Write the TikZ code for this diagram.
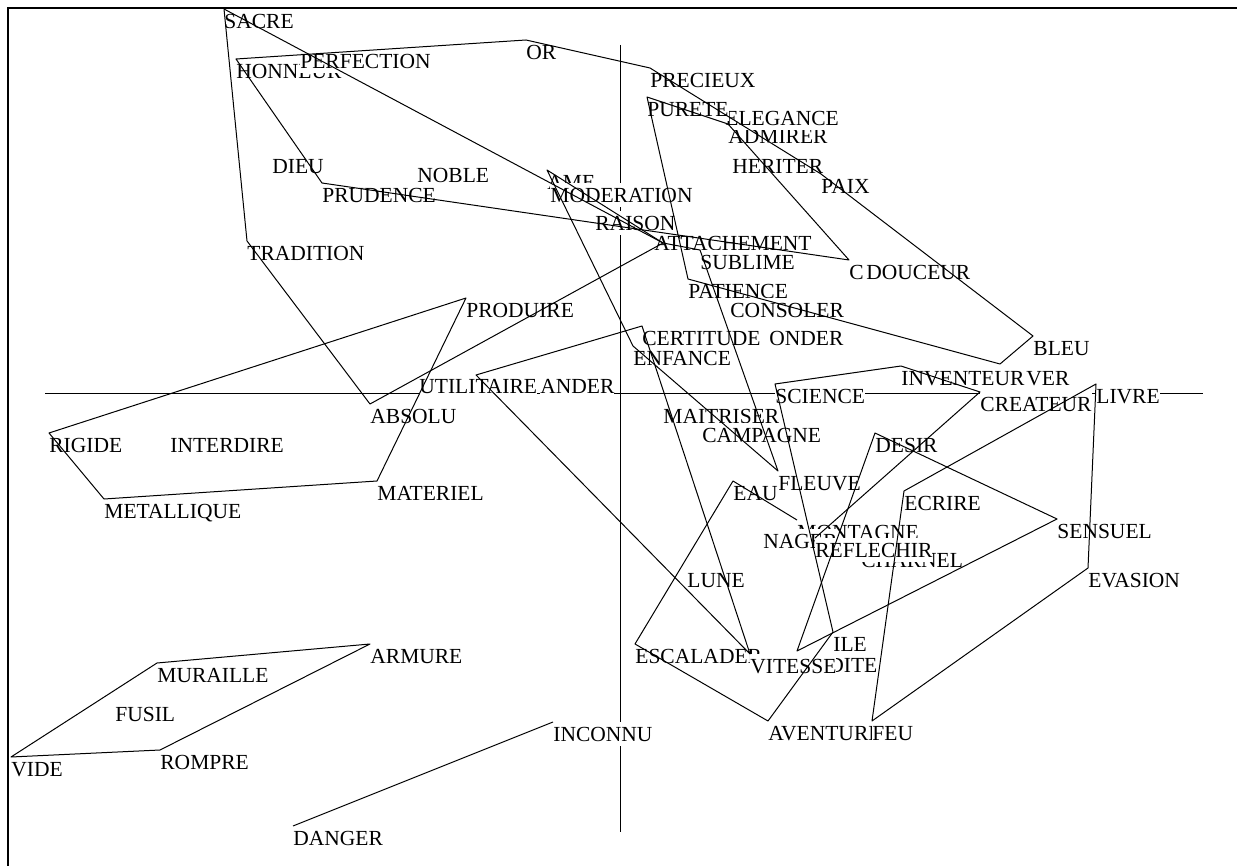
\documentclass[tikz,border=0pt]{standalone}
\usepackage{fontspec}
\setmainfont{Liberation Serif}
\usepackage{tikz}
\tikzset{
  word/.style={anchor=north west, fill=white, inner sep=0pt, text height=9.6pt, text depth=2.3pt, font=\fontsize{10.75pt}{12pt}\selectfont},
  hull/.style={line width=0.5pt, line join=round},
  axis/.style={line width=0.5pt},
  frame/.style={line width=1.2pt}
}

\begin{document}
\begin{tikzpicture}[x=0.5pt,y=-0.5pt]
\useasboundingbox (0,0) rectangle (1237,866);

\draw[axis] (45,393) -- (1203,393);
\draw[axis] (620,45) -- (620,832);

\node[word] (sacre) at (224,9) {SACRE};
\node[word] (honneur) at (236,59) {HONNEUR};
\node[word] (perfection) at (300,49) {PERFECTION};
\node[word] (or) at (526,40) {OR};
\node[word] (precieux) at (650,68) {PRECIEUX};
\node[word] (admirer) at (728,124) {ADMIRER};
\node[word] (elegance) at (725,106) {ELEGANCE};
\node[word] (purete) at (647,97) {PURETE};
\node[word] (heriter) at (732,154) {HERITER};
\node[word] (paix) at (821,174) {PAIX};
\node[word] (dieu) at (272,154) {DIEU};
\node[word] (noble) at (417,163) {NOBLE};
\node[word] (prudence) at (322,183) {PRUDENCE};
\node[word] (ame) at (547,170) {AME};
\node[word] (moderation) at (550,183) {MODERATION};
\node[word] (raison) at (595,211) {RAISON};
\node[word] (attachement) at (654,231) {ATTACHEMENT};
\node[word] (sublime) at (700,250) {SUBLIME};
\node[word] (c) at (849,260) {C};
\node[word] (douceur) at (866,260) {DOUCEUR};
\node[word] (tradition) at (247,241) {TRADITION};
\node[word] (patience) at (688,279) {PATIENCE};
\node[word] (consoler) at (730,298) {CONSOLER};
\node[word] (produire) at (466,298) {PRODUIRE};
\node[word] (onder) at (769,326) {ONDER};
\node[word] (enfance) at (633,346) {ENFANCE};
\node[word] (certitude) at (642,326) {CERTITUDE};
\node[word] (bleu) at (1033,336) {BLEU};
\node[word] (inventeur) at (901,366) {INVENTEUR};
\node[word] (ver) at (1026,366) {VER};
\node[word] (science) at (775,384) {SCIENCE};
\node[word] (createur) at (980,392) {CREATEUR};
\node[word] (livre) at (1096,384) {LIVRE};
\node[word] (utilitaire) at (419,374) {UTILITAIRE};
\node[word] (ander) at (540,374) {ANDER};
\node[word] (absolu) at (370,404) {ABSOLU};
\node[word] (rigide) at (49,433) {RIGIDE};
\node[word] (interdire) at (170,433) {INTERDIRE};
\node[word] (materiel) at (377,481) {MATERIEL};
\node[word] (metallique) at (104,499) {METALLIQUE};
\node[word] (maitriser) at (663,404) {MAITRISER};
\node[word] (campagne) at (702,423) {CAMPAGNE};
\node[word] (desir) at (875,433) {DESIR};
\node[word] (fleuve) at (778,471) {FLEUVE};
\node[word] (eau) at (733,481) {EAU};
\node[word] (ecrire) at (904,491) {ECRIRE};
\node[word] (sensuel) at (1057,519) {SENSUEL};
\node[word] (montagne) at (797,520) {MONTAGNE};
\node[word] (nager) at (763,529) {NAGER};
\node[word] (charnel) at (861,548) {CHARNEL};
\node[word] (reflechir) at (815,538) {REFLECHIR};
\node[word] (lune) at (687,568) {LUNE};
\node[word] (evasion) at (1088,568) {EVASION};
\node[word] (escalader) at (635,644) {ESCALADER};
\node[word] (dite) at (828,653) {DITE};
\node[word] (vitesse) at (750,654) {VITESSE};
\node[word] (ile) at (833,632) {ILE};
\node[word] (aventure) at (768,721) {AVENTURE};
\node[word] (feu) at (872,721) {FEU};
\node[word] (inconnu) at (553,722) {INCONNU};
\node[word] (armure) at (370,644) {ARMURE};
\node[word] (muraille) at (157,663) {MURAILLE};
\node[word] (fusil) at (115,702) {FUSIL};
\node[word] (vide) at (11,757) {VIDE};
\node[word] (rompre) at (160,750) {ROMPRE};
\node[word] (danger) at (293,826) {DANGER};

\coordinate (juste) at (663,243);
\coordinate (rever) at (1000,364);
\coordinate (commander) at (476,375);
\coordinate (xdite) at (797,651);

\draw[hull] (sacre.north west) -- (tradition.north west) -- (absolu.north west) -- (juste) -- cycle;
\draw[hull] (honneur.north west) -- (or.north west) -- (precieux.north west) -- (paix.north west) -- (bleu.north west) -- (rever) -- (patience.north west) -- (purete.north west) -- (admirer.north west) -- (c.north west) -- (prudence.north west) -- cycle;
\draw[hull] (ame.north west) -- (juste) -- (sublime.north west) -- (fleuve.north west) -- (enfance.north west) -- cycle;
\draw[hull] (rigide.north west) -- (produire.north west) -- (materiel.north west) -- (metallique.north west) -- cycle;
\draw[hull] (commander) -- (certitude.north west) -- (vitesse.north west) -- cycle;
\draw[hull] (reflechir.north west) -- (createur.north west) -- (inventeur.north west) -- (science.north west) -- (ile.north west);
\draw[hull] (montagne.north west) -- (eau.north west) -- (escalader.north west) -- (aventure.north west) -- (ile.north west);
\draw[hull] (desir.north west) -- (sensuel.north west) -- (xdite) -- cycle;
\draw[hull] (livre.north west) -- (ecrire.north west) -- (feu.north west) -- (evasion.north west) -- cycle;
\draw[hull] (muraille.north west) -- (armure.north west) -- (rompre.north west) -- (vide.north west) -- cycle;
\draw[hull] (danger.north west) -- (inconnu.north west);

\draw[frame] (8,866) -- (8,8) -- (1237,8);
\end{tikzpicture}
\end{document}
